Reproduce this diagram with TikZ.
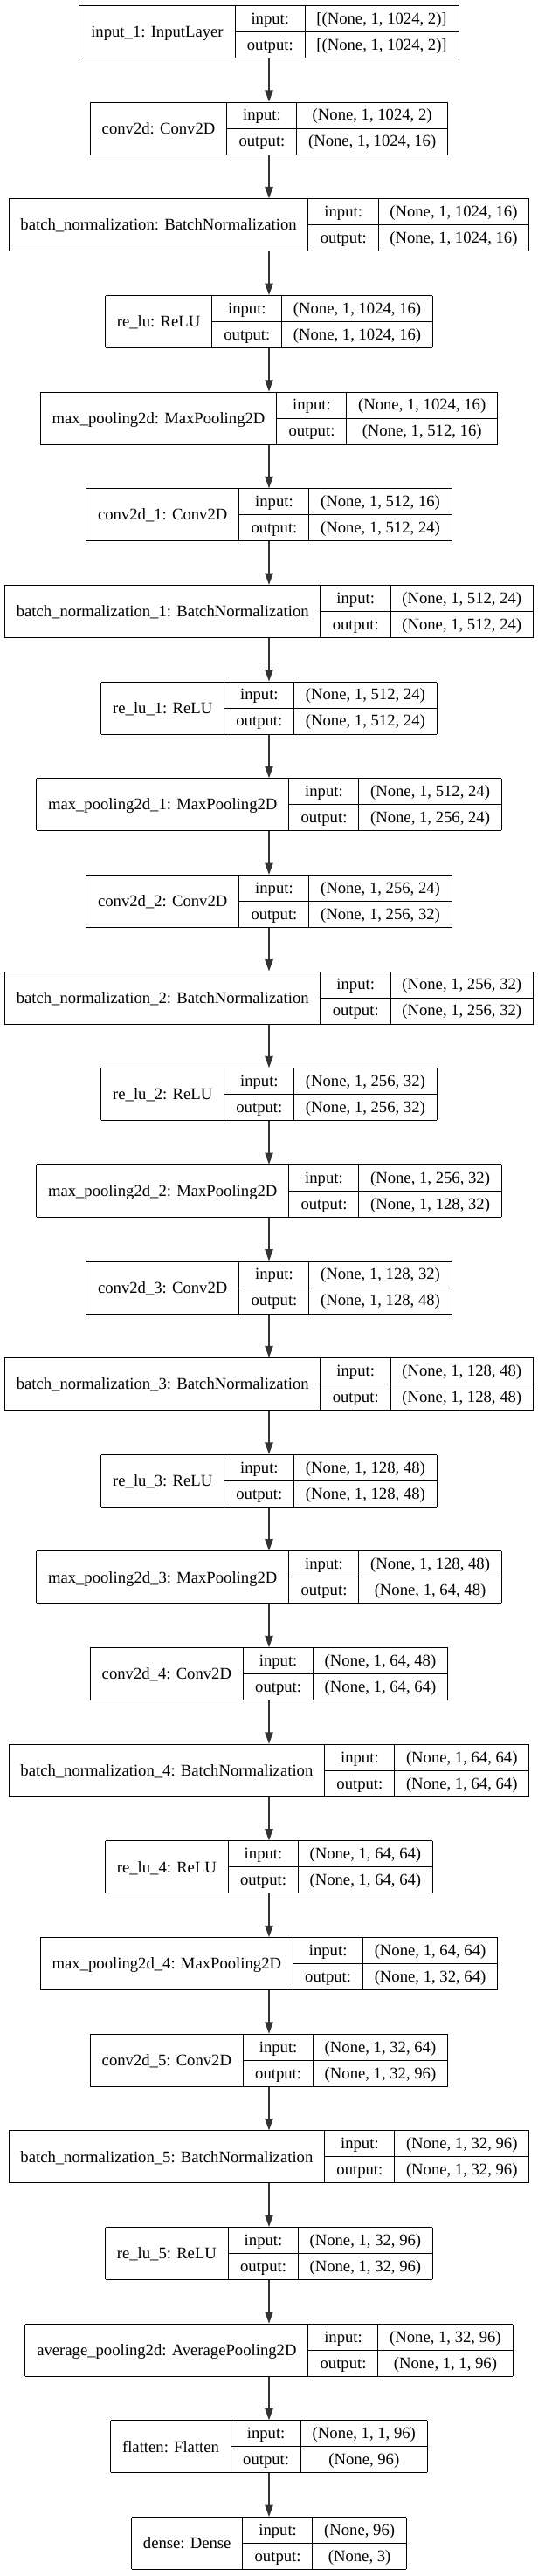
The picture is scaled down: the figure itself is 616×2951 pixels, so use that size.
\documentclass[tikz,border=0pt]{standalone}
\usepackage{fontspec}
\setmainfont{Liberation Serif}
\usetikzlibrary{positioning,arrows.meta}

\setlength{\arrayrulewidth}{0.75pt}
\setlength{\tabcolsep}{10pt}
\newcommand{\rowstrut}{\rule[-6.5pt]{0pt}{21.75pt}}
\newcommand{\kerasrecord}[3]{%
  \begin{tabular}{|c|@{}c@{}|}\hline
    \raisebox{-1pt}{#1} &
    \begin{tabular}{c|c}
      \rowstrut input: & #2\\ \hline
      \rowstrut output: & #3
    \end{tabular}\\ \hline
  \end{tabular}}

\begin{document}
\begin{tikzpicture}[x=0.75pt,y=0.75pt,node distance=37.24pt,
    layer/.style={inner sep=0pt,outer sep=0pt,font=\fontsize{14}{17}\selectfont},
    flow/.style={-{Triangle[length=10pt,width=7pt]},line width=1pt,draw=black!80}]
  \useasboundingbox (0,0) rectangle (616,-2951);

  \node[layer] (input1) at (308,-36.5) {\kerasrecord{input\_1: InputLayer}{[(None, 1, 1024, 2)]}{[(None, 1, 1024, 2)]}};
  \node[layer,below=of input1] (conv2d) {\kerasrecord{conv2d: Conv2D}{(None, 1, 1024, 2)}{(None, 1, 1024, 16)}};
  \node[layer,below=of conv2d] (bn) {\kerasrecord{batch\_normalization: BatchNormalization}{(None, 1, 1024, 16)}{(None, 1, 1024, 16)}};
  \node[layer,below=of bn] (relu) {\kerasrecord{re\_lu: ReLU}{(None, 1, 1024, 16)}{(None, 1, 1024, 16)}};
  \node[layer,below=of relu] (maxpool) {\kerasrecord{max\_pooling2d: MaxPooling2D}{(None, 1, 1024, 16)}{(None, 1, 512, 16)}};

  \node[layer,below=of maxpool] (conv2d1) {\kerasrecord{conv2d\_1: Conv2D}{(None, 1, 512, 16)}{(None, 1, 512, 24)}};
  \node[layer,below=of conv2d1] (bn1) {\kerasrecord{batch\_normalization\_1: BatchNormalization}{(None, 1, 512, 24)}{(None, 1, 512, 24)}};
  \node[layer,below=of bn1] (relu1) {\kerasrecord{re\_lu\_1: ReLU}{(None, 1, 512, 24)}{(None, 1, 512, 24)}};
  \node[layer,below=of relu1] (maxpool1) {\kerasrecord{max\_pooling2d\_1: MaxPooling2D}{(None, 1, 512, 24)}{(None, 1, 256, 24)}};

  \node[layer,below=of maxpool1] (conv2d2) {\kerasrecord{conv2d\_2: Conv2D}{(None, 1, 256, 24)}{(None, 1, 256, 32)}};
  \node[layer,below=of conv2d2] (bn2) {\kerasrecord{batch\_normalization\_2: BatchNormalization}{(None, 1, 256, 32)}{(None, 1, 256, 32)}};
  \node[layer,below=of bn2] (relu2) {\kerasrecord{re\_lu\_2: ReLU}{(None, 1, 256, 32)}{(None, 1, 256, 32)}};
  \node[layer,below=of relu2] (maxpool2) {\kerasrecord{max\_pooling2d\_2: MaxPooling2D}{(None, 1, 256, 32)}{(None, 1, 128, 32)}};

  \node[layer,below=of maxpool2] (conv2d3) {\kerasrecord{conv2d\_3: Conv2D}{(None, 1, 128, 32)}{(None, 1, 128, 48)}};
  \node[layer,below=of conv2d3] (bn3) {\kerasrecord{batch\_normalization\_3: BatchNormalization}{(None, 1, 128, 48)}{(None, 1, 128, 48)}};
  \node[layer,below=of bn3] (relu3) {\kerasrecord{re\_lu\_3: ReLU}{(None, 1, 128, 48)}{(None, 1, 128, 48)}};
  \node[layer,below=of relu3] (maxpool3) {\kerasrecord{max\_pooling2d\_3: MaxPooling2D}{(None, 1, 128, 48)}{(None, 1, 64, 48)}};

  \node[layer,below=of maxpool3] (conv2d4) {\kerasrecord{conv2d\_4: Conv2D}{(None, 1, 64, 48)}{(None, 1, 64, 64)}};
  \node[layer,below=of conv2d4] (bn4) {\kerasrecord{batch\_normalization\_4: BatchNormalization}{(None, 1, 64, 64)}{(None, 1, 64, 64)}};
  \node[layer,below=of bn4] (relu4) {\kerasrecord{re\_lu\_4: ReLU}{(None, 1, 64, 64)}{(None, 1, 64, 64)}};
  \node[layer,below=of relu4] (maxpool4) {\kerasrecord{max\_pooling2d\_4: MaxPooling2D}{(None, 1, 64, 64)}{(None, 1, 32, 64)}};

  \node[layer,below=of maxpool4] (conv2d5) {\kerasrecord{conv2d\_5: Conv2D}{(None, 1, 32, 64)}{(None, 1, 32, 96)}};
  \node[layer,below=of conv2d5] (bn5) {\kerasrecord{batch\_normalization\_5: BatchNormalization}{(None, 1, 32, 96)}{(None, 1, 32, 96)}};
  \node[layer,below=of bn5] (relu5) {\kerasrecord{re\_lu\_5: ReLU}{(None, 1, 32, 96)}{(None, 1, 32, 96)}};

  \node[layer,below=of relu5] (avgpool) {\kerasrecord{average\_pooling2d: AveragePooling2D}{(None, 1, 32, 96)}{(None, 1, 1, 96)}};
  \node[layer,below=of avgpool] (flatten) {\kerasrecord{flatten: Flatten}{(None, 1, 1, 96)}{(None, 96)}};
  \node[layer,below=of flatten] (dense) {\kerasrecord{dense: Dense}{(None, 96)}{(None, 3)}};

  % connections between consecutive layers
  \foreach \a/\b in {input1/conv2d,conv2d/bn,bn/relu,relu/maxpool,maxpool/conv2d1,
      conv2d1/bn1,bn1/relu1,relu1/maxpool1,maxpool1/conv2d2,
      conv2d2/bn2,bn2/relu2,relu2/maxpool2,maxpool2/conv2d3,
      conv2d3/bn3,bn3/relu3,relu3/maxpool3,maxpool3/conv2d4,
      conv2d4/bn4,bn4/relu4,relu4/maxpool4,maxpool4/conv2d5,
      conv2d5/bn5,bn5/relu5,relu5/avgpool,avgpool/flatten,flatten/dense}
    \draw[flow] (\a) -- (\b);
\end{tikzpicture}
\end{document}
